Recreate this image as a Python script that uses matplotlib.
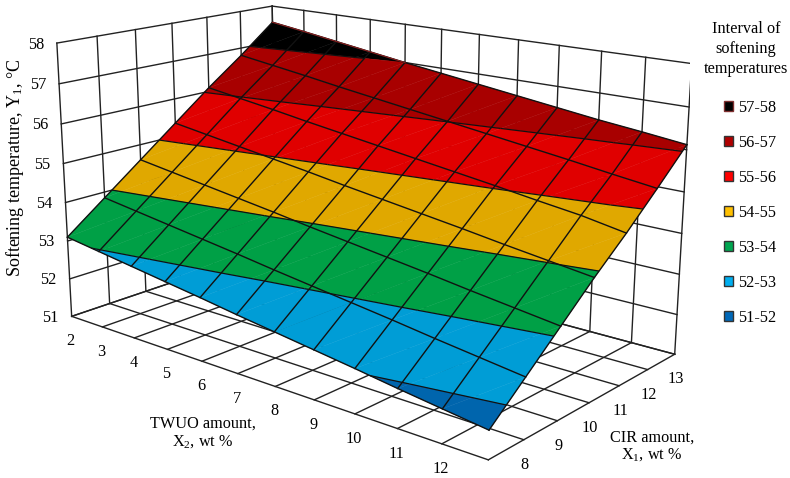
import numpy as np
import matplotlib
matplotlib.use('Agg')
import matplotlib.pyplot as plt
from matplotlib.patches import Patch
from mpl_toolkits.mplot3d import proj3d
from mpl_toolkits.mplot3d.art3d import Poly3DCollection, Line3DCollection

plt.rcParams['font.family'] = ['Liberation Serif', 'DejaVu Serif']
plt.rcParams['mathtext.fontset'] = 'custom'
plt.rcParams['mathtext.rm'] = 'Liberation Serif'
plt.rcParams['mathtext.default'] = 'rm'
plt.rcParams['font.size'] = 11.7

# data
twuo = [2, 3, 4, 5, 6, 7, 8, 9, 10, 11, 12, 13]
cir = [7, 8, 9, 10, 11, 12, 13]
temps = [51, 52, 53, 54, 55, 56, 57, 58]
softening = [
    [53.10, 53.85, 54.60, 55.35, 56.10, 56.80, 57.55],
    [52.97, 53.72, 54.47, 55.22, 55.97, 56.67, 57.42],
    [52.84, 53.59, 54.34, 55.09, 55.84, 56.54, 57.28],
    [52.71, 53.46, 54.21, 54.96, 55.70, 56.40, 57.14],
    [52.58, 53.33, 54.08, 54.83, 55.57, 56.27, 57.00],
    [52.44, 53.19, 53.94, 54.69, 55.44, 56.14, 56.87],
    [52.31, 53.06, 53.81, 54.56, 55.31, 56.01, 56.74],
    [52.18, 52.93, 53.68, 54.43, 55.18, 55.88, 56.61],
    [52.05, 52.80, 53.55, 54.30, 55.05, 55.75, 56.48],
    [51.91, 52.66, 53.41, 54.16, 54.91, 55.62, 56.35],
    [51.78, 52.53, 53.28, 54.03, 54.78, 55.48, 56.24],
    [51.65, 52.40, 53.15, 53.90, 54.60, 55.35, 56.12],
]
band_labels = ['57-58', '56-57', '55-56', '54-55', '53-54', '52-53', '51-52']
band_colors = ['#000000', '#A80000', '#E00000', '#E0A800', '#00A046', '#009DD6', '#0065AD']
legend_colors = ['#000000', '#B00000', '#FF0000', '#FFC000', '#00A650', '#00AEEF', '#0068B8']
legend_edges = ['#803030', '#333333', '#333333', '#333333', '#333333', '#333333', '#333333']

W, H = 790, 478
fig = plt.figure(figsize=(W / 100, H / 100), dpi=100)
ax = fig.add_axes([0, 0, H / W, 1], projection='3d')
ax.set_axis_off()
ax.computed_zorder = False

# camera fitted to the box corners of the picture
ax.view_init(elev=15.823, azim=-49.832)
ax.set_proj_type('persp', focal_length=0.4293)
ax.set_box_aspect((1, 0.5819, 0.5397))
ax.set_xlim(2, 13, view_margin=0)
ax.set_ylim(7, 13, view_margin=0)
ax.set_zlim(51, 58, view_margin=0)
ax.apply_aspect()
p0, p1 = ax.transData.transform([[0, 0], [1, 1]])
side = H * 3632.102 / (p1[0] - p0[0])
ax.set_position([(363.33 - p0[0] * side / H) / W, (280.58 - p0[1] * side / H) / H, side / W, side / H])
ax.apply_aspect()

# walls and floor
grid_c = '#222222'


def wall(xs, ys, zs):
    ax.plot(xs, ys, zs, color=grid_c, lw=1.0, zorder=1)


for z in temps:
    wall([2, 2], [7, 13], [z, z])
    wall([2, 13], [13, 13], [z, z])
for y in cir:
    wall([2, 2], [y, y], [51, 58])
    wall([2, 13], [y, y], [51, 51])
for x in twuo:
    wall([x, x], [13, 13], [51, 58])
    wall([x, x], [7, 13], [51, 51])

# surface cut into temperature bands
Z = np.array(softening)


def clip(poly, level, above):
    out = []
    for i in range(len(poly)):
        a, b = poly[i], poly[(i + 1) % len(poly)]
        ina = a[2] >= level if above else a[2] <= level
        inb = b[2] >= level if above else b[2] <= level
        if ina:
            out.append(a)
        if ina != inb:
            out.append(a + (b - a) * (level - a[2]) / (b[2] - a[2]))
    return out


polys, faces, segs = [], [], []
for i in range(len(twuo) - 1):
    for j in range(len(cir) - 1):
        c = [np.array([twuo[i + m], cir[j + n], Z[i + m, j + n]], dtype=float)
             for m, n in [(0, 0), (1, 0), (1, 1), (0, 1)]]
        for tri in ([c[0], c[1], c[2]], [c[0], c[2], c[3]]):
            for b, lo in enumerate(temps[::-1][1:]):
                piece = clip(clip(tri, lo, True), lo + 1, False)
                if len(piece) >= 3:
                    polys.append(piece)
                    faces.append(band_colors[b])
            for lev in temps:
                cross = []
                for m in range(3):
                    a, e = tri[m], tri[(m + 1) % 3]
                    if (a[2] - lev) * (e[2] - lev) < 0:
                        cross.append(a + (e - a) * (lev - a[2]) / (e[2] - a[2]))
                if len(cross) == 2:
                    segs.append(cross)

ax.add_collection3d(Poly3DCollection(polys, facecolors=faces, edgecolors=faces, linewidths=0.3, zorder=2), autolim=False)
ax.add_collection3d(Line3DCollection(segs, colors='#111111', linewidths=0.9, zorder=3), autolim=False)
for i, x in enumerate(twuo):
    ax.plot([x] * len(cir), cir, Z[i], color='#111111', lw=1.0, zorder=4)
for j, y in enumerate(cir):
    ax.plot(twuo, [y] * len(twuo), Z[:, j], color='#111111', lw=1.0, zorder=4)

# thin red rim on the top band
ax.plot(twuo[:5], [13] * 5, Z[:5, 6], color='#8A2020', lw=0.8, zorder=5)


# tick labels, placed from the projected box edges
def tick_label(x, y, z, s, dx, dy, ha='center'):
    px, py, _ = proj3d.proj_transform(x, y, z, ax.get_proj())
    u, v = ax.transData.transform((px, py))
    fig.text((u + dx) / W, (v + dy) / H, s, ha=ha, va='center')


for z in temps:
    tick_label(2, 7, z, str(z), -13, -1.5, ha='right')
for x in twuo[:-1]:
    tick_label(x, 7, 51, str(x), -1, -25)
for y in cir[1:]:
    tick_label(13, y, 51, str(y), 1, -25)

fig.text(15 / W, 1 - 167.5 / H, 'Softening temperature, Y$_1$, °C', rotation=90, ha='center', va='center', fontsize=13)
fig.text(203 / W, 1 - 433 / H, 'TWUO amount,\nX$_2$, wt %', ha='center', va='center', linespacing=1.1)
fig.text(652 / W, 1 - 446 / H, 'CIR amount,\nX$_1$, wt %', ha='center', va='center', linespacing=1.05)
fig.text(746 / W, 1 - 49 / H, 'Interval of\nsoftening\ntemperatures', ha='center', va='center', multialignment='center', linespacing=1.36)

handles = [Patch(facecolor=c, edgecolor=e, linewidth=1) for c, e in zip(legend_colors, legend_edges)]
leg = fig.legend(handles, band_labels, loc='upper left', bbox_to_anchor=(724 / W, 1 - 100 / H), frameon=False,
                 handlelength=0.55, handleheight=0.55, handletextpad=0.3, labelspacing=1.17,
                 borderpad=0, borderaxespad=0)

fig.savefig('out.png', dpi=100)
